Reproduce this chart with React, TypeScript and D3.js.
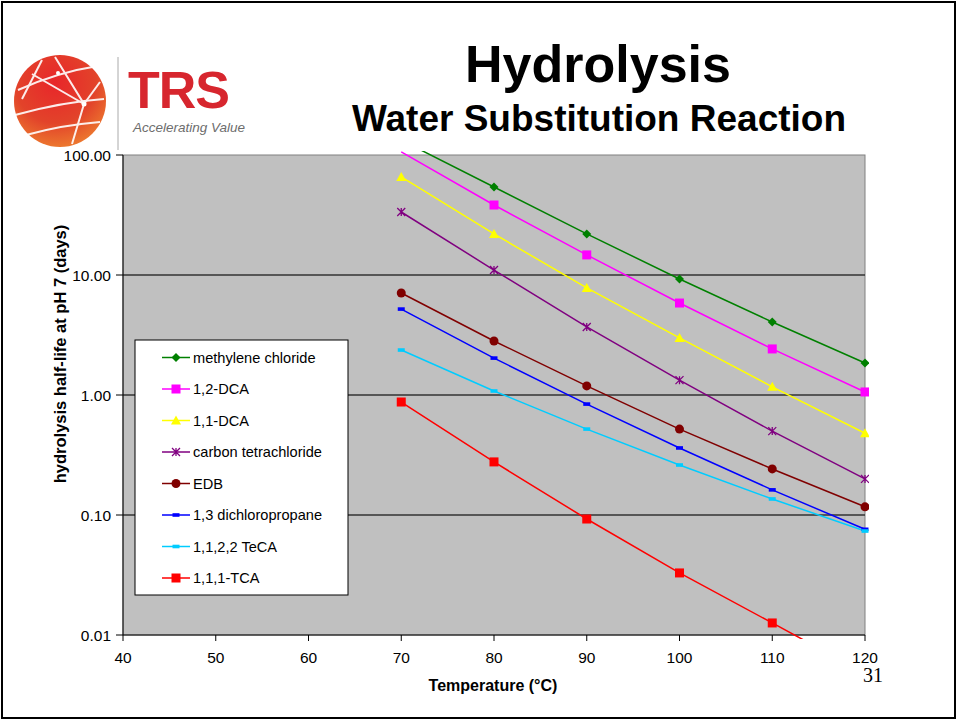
import React from "react";
import * as d3 from "d3";

const temps = [70, 80, 90, 100, 110, 120];
const seriesNames = [
  "methylene chloride",
  "1,2-DCA",
  "1,1-DCA",
  "carbon tetrachloride",
  "EDB",
  "1,3 dichloropropane",
  "1,1,2,2 TeCA",
  "1,1,1-TCA",
];
const methyleneChloride = [133, 54.1, 22.0, 9.26, 4.06, 1.85];
const dca12 = [106, 38.3, 14.7, 5.84, 2.42, 1.06];
const dca11 = [65.6, 22.0, 7.8, 2.99, 1.17, 0.48];
const carbonTet = [33.5, 11.0, 3.69, 1.33, 0.5, 0.2];
const edb = [7.08, 2.82, 1.19, 0.52, 0.242, 0.117];
const dichloropropane = [5.2, 2.03, 0.84, 0.362, 0.162, 0.076];
const teca = [2.37, 1.08, 0.52, 0.261, 0.136, 0.0735];
const tca111 = [0.874, 0.277, 0.0926, 0.0329, 0.0126, 0.0048];
const seriesValues = [methyleneChloride, dca12, dca11, carbonTet, edb, dichloropropane, teca, tca111];
const seriesColors = ["#008000", "#FF00FF", "#FFFF00", "#800080", "#800000", "#0000FF", "#00CCFF", "#FF0000"];
const seriesMarkers = ["diamond", "square", "triangle", "star", "circle", "dash", "dash", "square"];
const xTicks = [40, 50, 60, 70, 80, 90, 100, 110, 120];
const yTicks = [0.01, 0.1, 1, 10, 100];

const PL = 123, PR = 865, PT = 155, PB = 635;

function Marker({ type, x, y, color }: { type: string; x: number; y: number; color: string }) {
  switch (type) {
    case "diamond":
      return <path d={`M${x},${y - 4.5}L${x + 4.5},${y}L${x},${y + 4.5}L${x - 4.5},${y}Z`} fill={color} />;
    case "square":
      return <rect x={x - 4.5} y={y - 4.5} width={9} height={9} fill={color} />;
    case "triangle":
      return <path d={`M${x},${y - 5}L${x + 5},${y + 4}L${x - 5},${y + 4}Z`} fill={color} />;
    case "star":
      return (
        <path
          d={`M${x - 4},${y - 4}L${x + 4},${y + 4}M${x - 4},${y + 4}L${x + 4},${y - 4}M${x},${y - 4}L${x},${y + 4}`}
          stroke={color}
          strokeWidth={1.3}
          fill="none"
        />
      );
    case "circle":
      return <circle cx={x} cy={y} r={4.5} fill={color} />;
    case "dash":
      return <rect x={x - 3.5} y={y - 1.8} width={7} height={3.6} fill={color} />;
    default:
      return null;
  }
}

export default function App() {
  const x = d3.scaleLinear().domain([40, 120]).range([PL, PR]);
  const y = d3.scaleLog().domain([0.01, 100]).range([PB, PT]);
  const line = d3
    .line<number>()
    .x((_, i) => x(temps[i]))
    .y((d) => y(d));

  const legendX = 135, legendY = 340, legendW = 213, legendH = 255;

  return (
    <svg
      width={957}
      height={721}
      style={{ position: "absolute", left: 0, top: 0, background: "#fff" }}
      fontFamily="Arial, 'Liberation Sans', sans-serif"
    >
      <defs>
        <clipPath id="plotClip">
          <rect x={PL} y={PT - 4} width={PR - PL + 4} height={PB - PT + 8} />
        </clipPath>
        <radialGradient id="globeGrad" cx="0.45" cy="0.3" r="0.8">
          <stop offset="0" stopColor="#e8262a" />
          <stop offset="0.55" stopColor="#e2432a" />
          <stop offset="1" stopColor="#f08a30" />
        </radialGradient>
      </defs>

      {/* slide frame */}
      <rect x={2} y={2} width={953} height={716} fill="#fff" stroke="#000" strokeWidth={2} />

      {/* logo */}
      <g>
        <circle cx={60} cy={101} r={46} fill="url(#globeGrad)" />
        <g stroke="#fff" strokeWidth={2} fill="none" opacity={0.9}>
          <path d="M18,90 Q58,72 98,66" />
          <path d="M15,115 Q62,102 104,99" />
          <path d="M26,135 Q62,125 100,122" />
          <path d="M55,57 L84,104 L72,144" />
          <path d="M84,104 L100,82" />
          <path d="M42,60 L22,99" />
          <path d="M32,74 L84,104" />
        </g>
        <circle cx={84} cy={104} r={2.5} fill="#fff" />
        <circle cx={58} cy={73} r={2} fill="#fff" />
        <line x1={118} y1={57} x2={118} y2={150} stroke="#aaa" strokeWidth={1} />
        <text x={128} y={108} fontSize={52} fontWeight="bold" fill="#d7262e" letterSpacing={-1}>
          TRS
        </text>
        <text x={133} y={132} fontSize={13.5} fontStyle="italic" fill="#6d6d6d">
          Accelerating Value
        </text>
      </g>

      {/* titles */}
      <text x={598} y={82} fontSize={52} fontWeight="bold" textAnchor="middle" fill="#000">
        Hydrolysis
      </text>
      <text x={599} y={131} fontSize={37} fontWeight="bold" textAnchor="middle" fill="#000">
        Water Substitution Reaction
      </text>

      {/* plot area */}
      <rect x={PL} y={PT} width={PR - PL} height={PB - PT} fill="#C0C0C0" stroke="#808080" strokeWidth={1} />
      {yTicks
        .filter((t) => t > 0.01 && t < 100)
        .map((t) => (
          <line key={t} x1={PL} x2={PR} y1={y(t)} y2={y(t)} stroke="#333" strokeWidth={1.3} />
        ))}

      {/* axes */}
      <line x1={PL} x2={PL} y1={PT} y2={PB} stroke="#000" strokeWidth={1} />
      <line x1={PL} x2={PR} y1={PB} y2={PB} stroke="#000" strokeWidth={1} />
      {yTicks.map((t) => (
        <g key={t}>
          <line x1={PL - 7} x2={PL} y1={y(t)} y2={y(t)} stroke="#000" />
          <text x={PL - 12} y={y(t) + 5.5} fontSize={15.5} textAnchor="end" fill="#000">
            {t.toFixed(2)}
          </text>
        </g>
      ))}
      {xTicks.map((t) => (
        <g key={t}>
          <line x1={x(t)} x2={x(t)} y1={PB} y2={PB + 6} stroke="#000" />
          <text x={x(t)} y={PB + 28} fontSize={15.5} textAnchor="middle" fill="#000">
            {t}
          </text>
        </g>
      ))}
      <text x={493} y={691} fontSize={16} fontWeight="bold" textAnchor="middle">
        Temperature (°C)
      </text>
      <text
        transform={`translate(66,354) rotate(-90)`}
        fontSize={16.5}
        fontWeight="bold"
        textAnchor="middle"
      >
        hydrolysis half-life at pH 7 (days)
      </text>

      {/* series */}
      <g clipPath="url(#plotClip)">
        {seriesValues.map((vals, si) => (
          <path key={si} d={line(vals) || ""} fill="none" stroke={seriesColors[si]} strokeWidth={1.5} />
        ))}
        {seriesValues.map((vals, si) =>
          vals.map((v, i) =>
            v >= 0.01 && v <= 100 ? (
              <Marker key={`${si}-${i}`} type={seriesMarkers[si]} x={x(temps[i])} y={y(v)} color={seriesColors[si]} />
            ) : null
          )
        )}
      </g>

      {/* legend */}
      <rect x={legendX} y={legendY} width={legendW} height={legendH} fill="#fff" stroke="#000" strokeWidth={1} />
      {seriesNames.map((name, i) => {
        const ly = 357.5 + i * 31.5;
        return (
          <g key={name}>
            <line x1={162} x2={190} y1={ly} y2={ly} stroke={seriesColors[i]} strokeWidth={1.5} />
            <Marker type={seriesMarkers[i]} x={176} y={ly} color={seriesColors[i]} />
            <text x={193} y={ly + 5} fontSize={14.6} fill="#000">
              {name}
            </text>
          </g>
        );
      })}

      {/* slide number */}
      <text x={873} y={682} fontSize={20} fontFamily="'Liberation Serif', 'Times New Roman', serif" textAnchor="middle">
        31
      </text>
    </svg>
  );
}
